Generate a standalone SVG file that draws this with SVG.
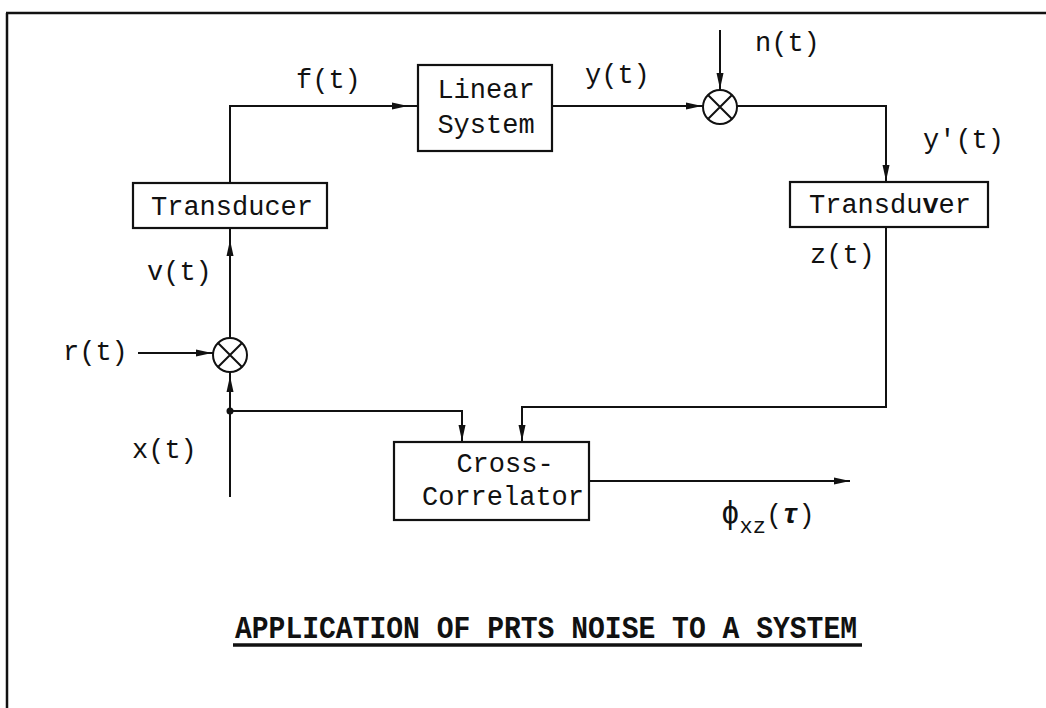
<svg xmlns="http://www.w3.org/2000/svg" width="1046" height="708" viewBox="0 0 1046 708">
<style>
.ln{stroke:#111;stroke-width:2;fill:none}
.bx{stroke:#111;stroke-width:2.2;fill:#fff}
.tx{font-family:"Liberation Mono","DejaVu Sans Mono",monospace;font-size:27px;fill:#111}
.mid{text-anchor:middle}
.ttl{font-family:"Liberation Mono","DejaVu Sans Mono",monospace;font-size:31px;font-weight:bold;fill:#111}
</style>
<defs>
<path id="ah" d="M0,0 L-16,-3.5 L-16,3.5 Z" fill="#111"/>
</defs>
<rect width="1046" height="708" fill="#fff"/>
<g id="frame">
<path d="M6,13 L1046,13 M7,13 L7,708" stroke="#111" stroke-width="2.5" fill="none"/>
</g>
<g id="connectors">
<path class="ln" d="M230,183 L230,106 L418,106"/>
<path class="ln" d="M552,106 L703,106"/>
<path class="ln" d="M720,30 L720,90"/>
<path class="ln" d="M737,106 L886,106 L886,182"/>
<path class="ln" d="M886,227 L886,407 L522,407 L522,442"/>
<path class="ln" d="M230,228 L230,338"/>
<path class="ln" d="M138,353 L213,353"/>
<path class="ln" d="M230,372 L230,497"/>
<path class="ln" d="M230,411 L462,411 L462,442"/>
<path class="ln" d="M589,481 L850,481"/>
<circle cx="230" cy="411" r="3.5" fill="#111"/>
<use href="#ah" transform="translate(408,106)"/>
<use href="#ah" transform="translate(702,106)"/>
<use href="#ah" transform="translate(720,89) rotate(90)"/>
<use href="#ah" transform="translate(886,181) rotate(90)"/>
<use href="#ah" transform="translate(230,240) rotate(-90)"/>
<use href="#ah" transform="translate(212,353)"/>
<use href="#ah" transform="translate(230,376) rotate(-90)"/>
<use href="#ah" transform="translate(462,441) rotate(90)"/>
<use href="#ah" transform="translate(522,441) rotate(90)"/>
<use href="#ah" transform="translate(850,481)"/>
</g>
<g id="transducer-in">
<rect class="bx" x="133" y="183" width="194" height="45"/>
<text class="tx mid" x="232" y="215">Transducer</text>
</g>
<g id="linear-system">
<rect class="bx" x="418" y="65" width="134" height="86"/>
<text class="tx mid" x="486" y="98">Linear</text>
<text class="tx mid" x="486" y="133">System</text>
</g>
<g id="sum-noise">
<circle class="ln" cx="720" cy="107" r="17"/>
<path class="ln" d="M708,95 L732,119 M732,95 L708,119"/>
</g>
<g id="transducer-out">
<rect class="bx" x="790" y="182" width="198" height="45"/>
<text class="tx mid" x="890" y="213">Transdu<tspan font-weight="bold">v</tspan>er</text>
</g>
<g id="sum-input">
<circle class="ln" cx="230" cy="355" r="17"/>
<path class="ln" d="M218,343 L242,367 M242,343 L218,367"/>
</g>
<g id="cross-correlator">
<rect class="bx" x="394" y="442" width="195" height="78"/>
<text class="tx mid" x="505" y="472">Cross-</text>
<text class="tx mid" x="503" y="505">Correlator</text>
</g>
<g id="labels">
<text class="tx" x="296" y="88">f(t)</text>
<text class="tx" x="585" y="83">y(t)</text>
<text class="tx" x="755" y="51">n(t)</text>
<text class="tx" x="923" y="148">y'(t)</text>
<text class="tx" x="810" y="263">z(t)</text>
<text class="tx" x="147" y="280">v(t)</text>
<text class="tx" x="63" y="360">r(t)</text>
<text class="tx" x="132" y="458">x(t)</text>
<text class="tx" x="721" y="523"><tspan font-size="31">ϕ</tspan><tspan font-size="22" dy="10">xz</tspan><tspan dy="-10">(<tspan font-style="italic" font-weight="bold">τ</tspan>)</tspan></text>
</g>
<g id="title">
<text class="ttl" x="235" y="638" textLength="622" lengthAdjust="spacingAndGlyphs">APPLICATION OF PRTS NOISE TO A SYSTEM</text>
<path d="M233,645 L862,645" stroke="#111" stroke-width="3.5"/>
</g>
</svg>
